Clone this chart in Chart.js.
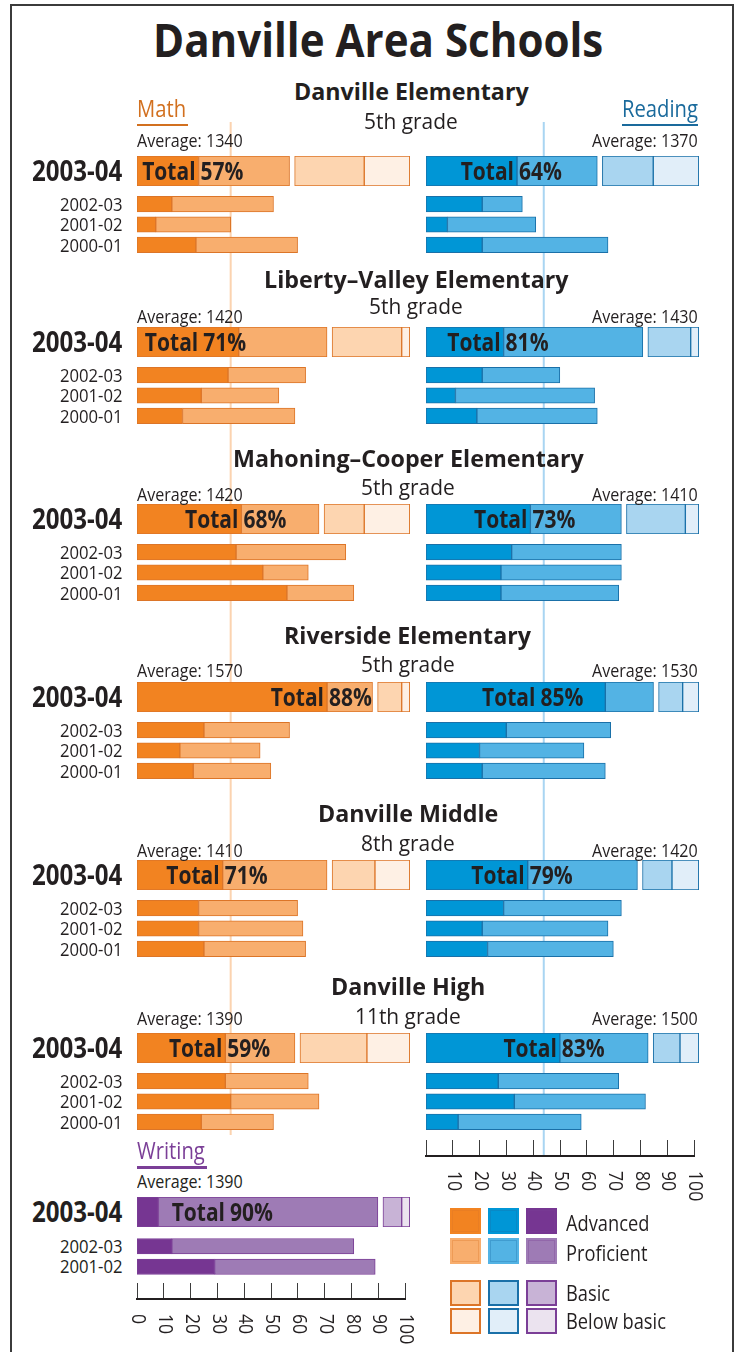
<!DOCTYPE html>
<html>
<head>
<meta charset="utf-8">
<title>Danville Area Schools</title>
<script src="https://cdn.jsdelivr.net/npm/chart.js"></script>
<style>
  html, body { margin: 0; padding: 0; background: #fff; }
  #page { position: relative; width: 744px; height: 1352px; overflow: hidden; background: #fff; }
  #frame { position: absolute; left: 10px; top: 4px; width: 720px; height: 1400px; border: 2px solid #3b3b3b; }
  .t { position: absolute; white-space: nowrap; transform-origin: 0 0; margin: 0; }
  .ul { position: absolute; height: 2.5px; }
  .sw { position: absolute; width: 27px; height: 22px; border: 2px solid; }
  canvas { position: absolute; }
</style>
</head>
<body>
<div id="page"><div id="frame"></div></div>
<script>
// ---- data (percent of students) ----
const schools = ['Danville Elementary', 'Liberty–Valley Elementary', 'Mahoning–Cooper Elementary',
                 'Riverside Elementary', 'Danville Middle', 'Danville High'];
const grades = ['5th grade', '5th grade', '5th grade', '5th grade', '8th grade', '11th grade'];
const levels = ['Advanced', 'Proficient', 'Basic', 'Below basic'];
const bigYear = '2003-04';
const pastYears = ['2002-03', '2001-02', '2000-01'];
const writingPastYears = ['2002-03', '2001-02'];

const mathAverage = [1340, 1420, 1420, 1570, 1410, 1390];
const readingAverage = [1370, 1430, 1410, 1530, 1420, 1500];
const writingAverage = 1390;

// 2003-04
const mathAdv = [23, 38, 39, 71, 32, 33];
const mathProf = [34, 33, 29, 17, 39, 26];
const mathBasic = [26, 26, 15, 9, 16, 25];
const mathBelow = [17, 3, 17, 3, 13, 16];

const readAdv = [34, 29, 39, 67, 38, 50];
const readProf = [30, 52, 34, 18, 41, 33];
const readBasic = [19, 16, 22, 9, 11, 10];
const readBelow = [17, 3, 5, 6, 10, 7];

// earlier years: [2002-03, 2001-02, 2000-01]
const mathAdvPast = [[13, 7, 22], [34, 24, 17], [37, 47, 56], [25, 16, 21], [23, 23, 25], [33, 35, 24]];
const mathProfPast = [[38, 28, 38], [29, 29, 42], [41, 17, 25], [32, 30, 29], [37, 39, 38], [31, 33, 27]];
const readAdvPast = [[21, 8, 21], [21, 11, 19], [32, 28, 28], [30, 20, 21], [29, 21, 23], [27, 33, 12]];
const readProfPast = [[15, 33, 47], [29, 52, 45], [41, 45, 44], [39, 39, 46], [44, 47, 47], [45, 49, 46]];

// writing, Danville High
const writeNow = [8, 82, 7, 3];
const writeAdvPast = [13, 29];
const writeProfPast = [68, 60];

// vertical reference lines
const mathLine = 35;
const readLine = 44;

const axisTicks = [0, 10, 20, 30, 40, 50, 60, 70, 80, 90, 100];

// ---- style ----
const FONT = "'Open Sans', 'Noto Sans', 'DejaVu Sans', sans-serif";
const INK = '#231f20';
const palette = {
  math:    { adv: '#f28321', prof: '#f8ae6e', basic: '#fdd5b0', below: '#fef0e4', edge: '#dc7528', text: '#d2701f' },
  reading: { adv: '#0096d6', prof: '#53b3e4', basic: '#a9d5f0', below: '#e1eef9', edge: '#1a70a8', text: '#1a6a9c' },
  writing: { adv: '#763692', prof: '#9e7bb5', basic: '#c8b3d6', below: '#ebe3ef', edge: '#7b3f97', text: '#7b3f97' }
};
const GAP = 1.9;     // white gap between proficient and basic
const XMAX = 102;
const MATH_X = 137, READ_X = 426, BAR_W = 273;
const PITCH = 20.4;

// where each "Total" label sits when it is not on the advanced edge (axis units)
const layout = [
  { top: 156, name: 100, grade: 129, avg: 147, cx: 411 },
  { top: 327, name: 288, grade: 314, avg: 323, cx: 416, mathAt: 24 },
  { top: 504, name: 467, grade: 495, avg: 501, cx: 408 },
  { top: 682, name: 644, grade: 672, avg: 677, cx: 408, readAt: 42 },
  { top: 860, name: 822, grade: 851, avg: 857, cx: 408 },
  { top: 1033, name: 995, grade: 1024, avg: 1025, cx: 408 }
];
const WRITE_TOP = 1197;

Chart.defaults.animation = false;
Chart.defaults.plugins.legend.display = false;
Chart.defaults.plugins.tooltip.enabled = false;
Chart.defaults.events = [];

const page = document.getElementById('page');
const mctx = document.createElement('canvas').getContext('2d');

function text(str, x, base, size, opt) {
  opt = opt || {};
  const sx = opt.sx || 0.88;
  const font = (opt.weight || 400) + ' ' + size + 'px ' + FONT;
  mctx.font = font;
  const m = mctx.measureText(str);
  const asc = m.fontBoundingBoxAscent, desc = m.fontBoundingBoxDescent;
  const w = m.width * sx;
  let left = x;
  if (opt.align === 'center') left = x - w / 2;
  else if (opt.align === 'right') left = x - w;
  const d = document.createElement('div');
  d.className = 't';
  d.textContent = str;
  d.style.font = font;
  d.style.lineHeight = (asc + desc) + 'px';
  d.style.color = opt.color || INK;
  d.style.left = left + 'px';
  d.style.top = (base - asc) + 'px';
  d.style.transform = 'scaleX(' + sx + ')';
  page.appendChild(d);
}

function underline(x, y, w, color) {
  const d = document.createElement('div');
  d.className = 'ul';
  d.style.left = x + 'px'; d.style.top = y + 'px'; d.style.width = w + 'px'; d.style.background = color;
  page.appendChild(d);
}

function makeChart(left, top, width, height, config, pad) {
  const p = pad || { left: 2, right: 2, top: 2, bottom: 2 };
  const c = document.createElement('canvas');
  c.width = width + p.left + p.right;
  c.height = height + p.top + p.bottom;
  c.style.left = (left - p.left) + 'px';
  c.style.top = (top - p.top) + 'px';
  c.style.width = c.width + 'px';
  c.style.height = c.height + 'px';
  page.appendChild(c);
  config.options = Object.assign({ responsive: false, devicePixelRatio: 1, layout: { padding: p } }, config.options);
  return new Chart(c, config);
}

// "Total NN%" written across the adv/proficient boundary
const totalLabel = {
  id: 'totalLabel',
  afterDatasetsDraw(chart, args, opts) {
    const x = chart.scales.x, ctx = chart.ctx, area = chart.chartArea;
    const at = opts.at != null ? opts.at : (opts.adv < 15 ? 34 : opts.adv);
    const anchor = x.getPixelForValue(at);
    const s = 0.84;
    ctx.save();
    ctx.fillStyle = INK;
    ctx.font = '700 25px ' + FONT;
    ctx.translate(anchor, area.top + 24);
    ctx.scale(s, 1);
    ctx.textAlign = 'right';
    ctx.fillText('Total', -3 / s, 0);
    ctx.textAlign = 'left';
    ctx.fillText(opts.total + '%', 2 / s, 0);
    ctx.restore();
  }
};

// tick numbers turned a quarter turn, read top to bottom
const tickText = {
  id: 'tickText',
  afterDraw(chart, args, opts) {
    const x = chart.scales.x, ctx = chart.ctx;
    ctx.save();
    ctx.fillStyle = INK;
    ctx.font = '400 20px ' + FONT;
    ctx.textAlign = 'left';
    ctx.textBaseline = 'middle';
    opts.labels.forEach(v => {
      ctx.save();
      ctx.translate(x.getPixelForValue(v) + 1, chart.chartArea.bottom + 15);
      ctx.rotate(Math.PI / 2);
      ctx.scale(0.88, 1);
      ctx.fillText(String(v), 0, 0);
      ctx.restore();
    });
    ctx.restore();
  }
};

function seg(values, fill, edge, thick) {
  return { data: values, backgroundColor: fill, borderColor: edge, borderWidth: 1, borderSkipped: false, barThickness: thick };
}

const hScales = {
  x: { type: 'linear', stacked: true, min: 0, max: XMAX, display: false },
  y: { stacked: true, display: false }
};

function bigBar(left, top, col, adv, prof, basic, below, at) {
  makeChart(left, top, BAR_W, 30, {
    type: 'bar',
    data: {
      labels: [bigYear],
      datasets: [
        seg([adv], col.adv, col.edge, 30),
        seg([prof], col.prof, col.edge, 30),
        { data: [GAP], backgroundColor: 'rgba(0,0,0,0)', borderWidth: 0, barThickness: 30 },
        seg([basic], col.basic, col.edge, 30),
        seg([below], col.below, col.edge, 30)
      ]
    },
    options: { indexAxis: 'y', plugins: { totalLabel: { adv: adv, total: adv + prof, at: at } }, scales: hScales },
    plugins: [totalLabel]
  });
}

function smallBars(left, top, col, labels, adv, prof) {
  makeChart(left, top, BAR_W, Math.round(PITCH * labels.length), {
    type: 'bar',
    data: { labels: labels, datasets: [seg(adv, col.adv, col.edge, 15.5), seg(prof, col.prof, col.edge, 15.5)] },
    options: { indexAxis: 'y', scales: hScales }
  });
}

function refLine(left, top, bottom, value, color) {
  makeChart(left, top, BAR_W, bottom - top, {
    type: 'line',
    data: { datasets: [{ data: [{ x: value, y: 0 }, { x: value, y: 1 }], borderColor: color, borderWidth: 2, pointRadius: 0 }] },
    options: { scales: { x: { type: 'linear', min: 0, max: XMAX, display: false }, y: { type: 'linear', min: 0, max: 1, display: false } } }
  });
}

function axis(left, top, labels) {
  makeChart(left, top, 268, 16, {
    type: 'bar',
    data: { labels: [], datasets: [] },
    options: {
      indexAxis: 'y',
      plugins: { tickText: { labels: labels } },
      scales: {
        x: {
          type: 'linear', min: 0, max: 100, position: 'bottom',
          afterFit(s) { s.height = 0; },
          ticks: { display: false, stepSize: 10 },
          grid: { drawTicks: false, color: '#3c3c3c', lineWidth: 1 },
          border: { display: true, color: INK, width: 2 }
        },
        y: { display: false }
      }
    },
    plugins: [tickText]
  }, { left: 14, right: 14, top: 2, bottom: 52 });
}

// ---- reference lines and axes (behind the bars) ----
refLine(MATH_X, 122, 1135, mathLine, '#fbd3b0');
refLine(READ_X, 122, 1157, readLine, '#a9d5f2');
axis(READ_X, 1140, axisTicks.slice(1));
axis(MATH_X, 1283, axisTicks);

// ---- school panels ----
schools.forEach((name, i) => {
  const L = layout[i];
  bigBar(MATH_X, L.top, palette.math, mathAdv[i], mathProf[i], mathBasic[i], mathBelow[i], L.mathAt);
  bigBar(READ_X, L.top, palette.reading, readAdv[i], readProf[i], readBasic[i], readBelow[i], L.readAt);
  smallBars(MATH_X, L.top + 38, palette.math, pastYears, mathAdvPast[i], mathProfPast[i]);
  smallBars(READ_X, L.top + 38, palette.reading, pastYears, readAdvPast[i], readProfPast[i]);

  text(name, L.cx, L.name, 24, { weight: 700, align: 'center', sx: 0.97 });
  text(grades[i], L.cx, L.grade, 22, { align: 'center', sx: 0.95 });
  text('Average: ' + mathAverage[i], MATH_X, L.avg, 18.5, { sx: 0.87 });
  text('Average: ' + readingAverage[i], 698, L.avg, 18.5, { align: 'right', sx: 0.87 });
  text(bigYear, 122, L.top + 25, 28, { weight: 700, align: 'right', sx: 0.86 });
  pastYears.forEach((y, k) => {
    text(y, 122, L.top + 38 + PITCH * (k + 0.5) + 6.7, 18.5, { align: 'right', sx: 0.9 });
  });
});

// ---- writing ----
bigBar(MATH_X, WRITE_TOP, palette.writing, writeNow[0], writeNow[1], writeNow[2], writeNow[3]);
smallBars(MATH_X, WRITE_TOP + 39, palette.writing, writingPastYears, writeAdvPast, writeProfPast);
text(bigYear, 122, WRITE_TOP + 25, 28, { weight: 700, align: 'right', sx: 0.86 });
writingPastYears.forEach((y, k) => {
  text(y, 122, WRITE_TOP + 39 + PITCH * (k + 0.5) + 6.7, 18.5, { align: 'right', sx: 0.9 });
});
text('Average: ' + writingAverage, MATH_X, 1188.3, 18.5, { sx: 0.87 });

// ---- headings ----
text('Danville Area Schools', 377.7, 57.3, 46, { weight: 700, align: 'center', sx: 0.915 });
text('Math', MATH_X, 116.7, 23, { color: palette.math.text, sx: 0.88 });
underline(MATH_X, 123.5, 51, palette.math.text);
text('Reading', 698, 116.7, 23, { color: palette.reading.text, align: 'right', sx: 0.88 });
underline(622, 123.5, 76, palette.reading.text);
text('Writing', MATH_X, 1159, 23, { color: palette.writing.text, sx: 0.88 });
underline(MATH_X, 1166, 70, palette.writing.text);

// ---- legend ----
const subjects = ['math', 'reading', 'writing'];
const keys = ['adv', 'prof', 'basic', 'below'];
const swX = [450, 487.5, 525.5];
const swY = [1208, 1238, 1280, 1308];
const labelBase = [1231, 1261, 1300.5, 1329];
levels.forEach((lv, r) => {
  subjects.forEach((s, c) => {
    const d = document.createElement('div');
    d.className = 'sw';
    d.style.left = swX[c] + 'px';
    d.style.top = swY[r] + 'px';
    d.style.background = palette[s][keys[r]];
    d.style.borderColor = r < 2 ? palette[s][keys[r]] : palette[s].edge;
    if (r < 2) d.style.boxShadow = 'inset 0 0 0 1px ' + palette[s].edge + '55';
    page.appendChild(d);
  });
  text(lv, 566, labelBase[r], 22, { sx: 0.83 });
});
</script>
</body>
</html>
